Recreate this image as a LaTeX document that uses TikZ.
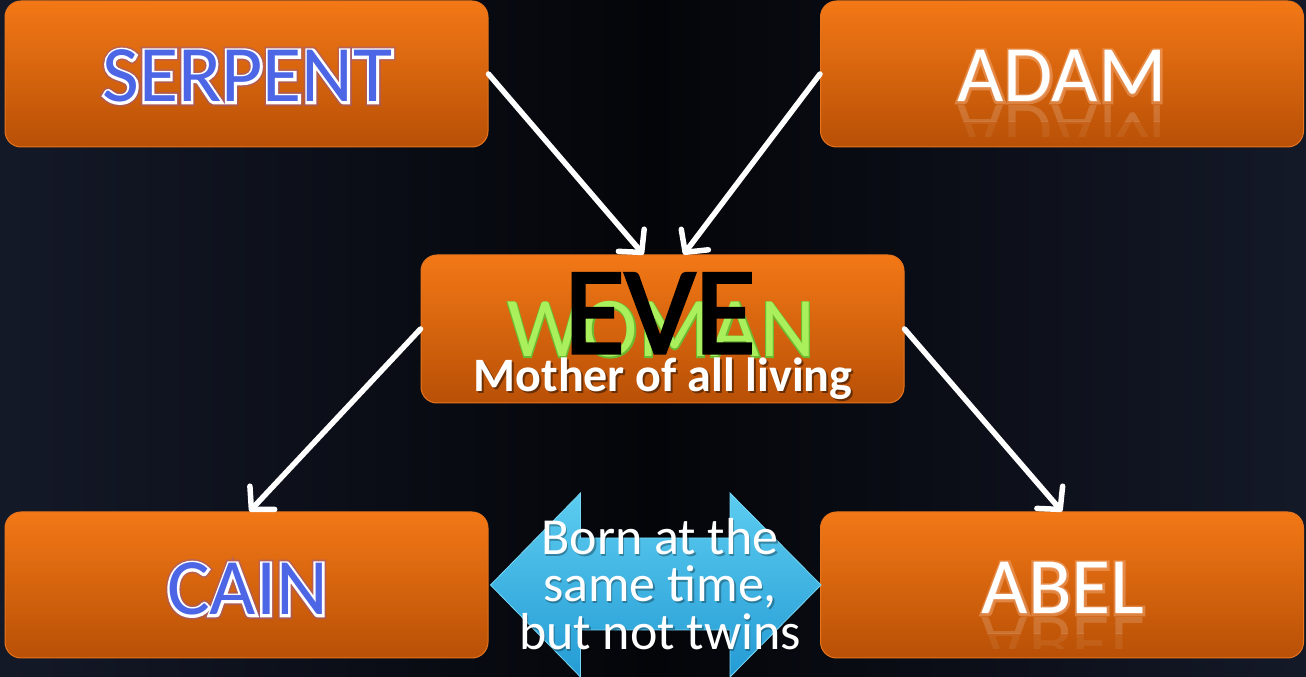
\documentclass[tikz,border=0pt]{standalone}
\usepackage{fontspec}
\setmainfont{Carlito}
\newfontfamily\fbthin[FakeBold=2.5]{Carlito}
\newfontfamily\fbmid[FakeBold=6]{Carlito}
\newfontfamily\fbwide[FakeBold=10]{Carlito}
\usetikzlibrary{arrows.meta,calc}
\definecolor{bgside}{RGB}{20,25,40}
\definecolor{bgmid}{RGB}{4,5,9}
\definecolor{boxtop}{RGB}{243,120,22}
\definecolor{boxbot}{RGB}{184,80,6}
\definecolor{boxedge}{RGB}{232,116,28}
\definecolor{serpblue}{RGB}{76,102,230}
\definecolor{glowpurple}{RGB}{150,90,150}
\definecolor{peach}{RGB}{246,180,135}
\definecolor{womangreen}{RGB}{170,240,92}
\definecolor{womanedge}{RGB}{110,185,50}
\definecolor{arrowtop}{RGB}{92,204,240}
\definecolor{arrowbot}{RGB}{36,155,212}
\definecolor{arrowedge}{RGB}{120,215,245}
\begin{document}
\begin{tikzpicture}[x=1pt,y=1pt,
  box/.style={rounded corners=16pt, minimum width=483pt, minimum height=146pt, inner sep=0pt,
    top color=boxtop, bottom color=boxbot, draw=boxedge, line width=1pt},
  link/.style={draw=white, line width=5.5pt, line cap=round,
    -{Straight Barb[length=16pt,width=34pt,round]}},
  bigtext/.style={anchor=base, inner sep=0pt, font=\fontsize{80}{80}\selectfont},
  evetext/.style={anchor=base, inner sep=0pt, font=\fontsize{124}{124}\selectfont},
  womantext/.style={anchor=base, inner sep=0pt, font=\fontsize{85}{85}\selectfont},
  mothertext/.style={anchor=base, inner sep=0pt, font=\fontsize{48}{48}\selectfont\bfseries},
  borntext/.style={anchor=base, inner sep=0pt, text=white, font=\fontsize{52}{52}\selectfont},
]
\useasboundingbox (0,0) rectangle (1306,677);
% background
\shade[left color=bgside, right color=bgside, middle color=bgmid] (0,0) rectangle (1306,677);

% boxes
\node[box] (serpent) at (246.5,603) {};
\node[box] (adam) at (1062,603) {};
\node[box, minimum height=148pt] (woman) at (662.5,348) {};
\node[box] (cain) at (246.5,92) {};
\node[box] (abel) at (1062,92) {};

% connectors
\draw[link] (serpent.east) -- ([xshift=-19pt]woman.north);
\draw[link] (adam.west) -- ([xshift=21pt]woman.north);
\draw[link] (woman.west) -- ([xshift=3pt]cain.north);
\draw[link] (woman.east) -- (abel.north);

% double arrow between CAIN and ABEL
\coordinate (lt) at ($(cain.east)+(2,0)$);
\coordinate (rt) at ($(abel.west)+(1,0)$);
\path[top color=arrowtop, bottom color=arrowbot, draw=arrowedge, line width=0.8pt]
  (lt) -- ($(lt)+(90,92)$) -- ($(lt)+(90,47)$) -- ($(rt)+(-91,47)$) -- ($(rt)+(-91,92)$)
  -- (rt) -- ($(rt)+(-91,-92)$) -- ($(rt)+(-91,-45)$) -- ($(lt)+(90,-45)$) -- ($(lt)+(90,-92)$) -- cycle;

% SERPENT
\coordinate (tS) at (247.5,575);
\node[bigtext,text=glowpurple,opacity=0.5] at (tS) {\fbwide SERPENT};
\node[bigtext,text=white] at (tS) {\fbmid SERPENT};
\node[bigtext,text=serpblue] (serpentlabel) at (tS) {SERPENT};

% CAIN
\coordinate (tC) at (247.5,62);
\node[bigtext,text=glowpurple,opacity=0.5] at (tC) {\fbwide CAIN};
\node[bigtext,text=white] at (tC) {\fbmid CAIN};
\node[bigtext,text=serpblue] (cainlabel) at (tC) {CAIN};

% ADAM
\coordinate (tA) at (1062,575);
\begin{scope}
  \clip (830,573) rectangle (1295,555);
  \node[bigtext,text=white,opacity=0.16] at (1062,571) {\scalebox{1}[-1]{ADAM}};
\end{scope}
\begin{scope}
  \clip (830,555) rectangle (1295,540);
  \node[bigtext,text=white,opacity=0.07] at (1062,571) {\scalebox{1}[-1]{ADAM}};
\end{scope}
\node[bigtext,text=peach,opacity=0.45] at (tA) {\fbmid ADAM};
\node[bigtext,text=white] (adamlabel) at (tA) {ADAM};

% ABEL
\coordinate (tB) at (1063,63);
\begin{scope}
  \clip (830,61) rectangle (1295,43);
  \node[bigtext,text=white,opacity=0.16] at (1063,59) {\scalebox{1}[-1]{ABEL}};
\end{scope}
\begin{scope}
  \clip (830,43) rectangle (1295,28);
  \node[bigtext,text=white,opacity=0.07] at (1063,59) {\scalebox{1}[-1]{ABEL}};
\end{scope}
\node[bigtext,text=peach,opacity=0.45] at (tB) {\fbmid ABEL};
\node[bigtext,text=white] (abellabel) at (tB) {ABEL};

% WOMAN / EVE
\coordinate (tW) at (661,320);
\node[womantext,text=womanedge] at (tW) {\fbthin WOMAN};
\node[womantext,text=womangreen] (womanlabel) at (tW) {WOMAN};
\node[evetext,text=black] (evelabel) at (660,324) {\fbthin EVE};
\node[mothertext,text=black,opacity=0.45] at (665,283) {Mother of all living};
\node[mothertext,text=white] (motherlabel) at (663,285) {Mother of all living};

% text on double arrow
\node[borntext,text=black,opacity=0.3] at (661.5,120.5) {Born at the};
\node[borntext,text=black,opacity=0.3] at (661.5,73.5) {same time,};
\node[borntext,text=black,opacity=0.3] at (661.5,25.5) {but not twins};
\node[borntext] (born1) at (660,122) {Born at the};
\node[borntext] (born2) at (660,75) {same time,};
\node[borntext] (born3) at (660,27) {but not twins};
\end{tikzpicture}
\end{document}
